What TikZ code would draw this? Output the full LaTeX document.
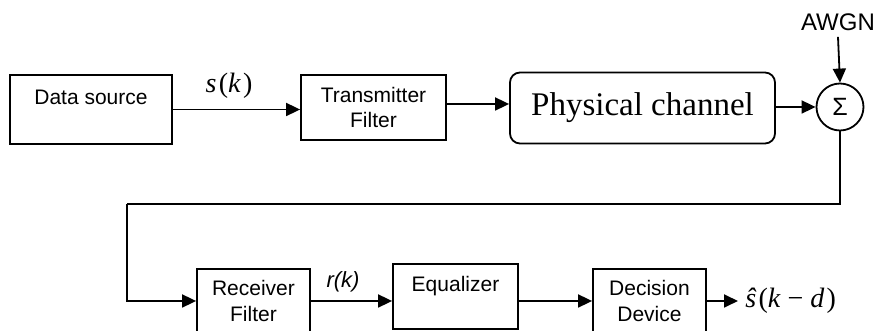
\documentclass[tikz,border=0pt]{standalone}
\usepackage{fontspec}
\setmainfont{Liberation Sans}
\newfontfamily\tms{Liberation Serif}
\usetikzlibrary{arrows.meta}

\begin{document}
\begin{tikzpicture}[x=0.5pt,y=-0.5pt,
    blk/.style={draw,line width=0.9pt,align=center,inner sep=1pt,
      font=\fontsize{10.5}{12.6}\selectfont},
    arr/.style={line width=0.9pt,-{Triangle[length=7pt,width=6.5pt]}},
    lbl/.style={inner sep=1pt}]
  \useasboundingbox (0,0) rectangle (875,331);
  \clip (0,0) rectangle (875,331);
  % upper row
  \node[blk,minimum width=81pt,minimum height=34.5pt] (src) at (91,109.5) {Data source\\~};
  \node[blk,minimum width=72.5pt,minimum height=32.5pt] (tx) at (373.5,107.5) {Transmitter\\Filter};
  \node[blk,rounded corners=5pt,minimum width=132.5pt,minimum height=35.5pt,
        font=\tms\fontsize{16.5}{20}\selectfont] (ch) at (642.5,108) {Physical channel};
  \node[draw,circle,line width=0.9pt,minimum size=23.5pt,inner sep=0pt,
        font=\fontsize{12.5}{14}\selectfont] (sum) at (840,107) {Σ};
  \node[lbl,inner sep=3pt,font=\fontsize{12}{14}\selectfont] (awgn) at (838,22) {AWGN};
  \node[lbl,font=\tms\fontsize{14}{16}\selectfont] (sk) at (229,86) {\textit{s}\kern1.2pt(\textit{k}\kern1pt)};
  % lower row
  \node[blk,minimum width=56.5pt,minimum height=32pt] (rx) at (253.5,301) {Receiver\\Filter};
  \node[blk,minimum width=62.5pt,minimum height=32.5pt] (eq) at (455.5,296.5) {Equalizer\\~};
  \node[blk,minimum width=56.5pt,minimum height=32pt] (dd) at (649.5,301) {Decision\\Device};
  \node[lbl,font=\fontsize{11}{13}\selectfont] (rk) at (343,282) {\textit{r(k)}};
  \node[lbl,inner sep=3.5pt,anchor=west,font=\tms\fontsize{14}{16}\selectfont] (out) at (738,301)
    {\textit{ŝ}\kern1pt(\textit{k} − \textit{d}\kern1pt)};
  \coordinate (bend) at (127,204);
  % connectors
  \draw[arr] (src.east) -- (src.east -| tx.west);
  \draw[arr] ([yshift=1.75pt]tx.east) -- ([yshift=1.75pt]tx.east -| ch.west);
  \draw[arr] (ch.east |- sum.west) -- (sum.west);
  \draw[arr] (awgn.south) -- (sum.north);
  \draw[line width=0.9pt] (sum.south) |- (bend);
  \draw[arr] (bend) |- (rx.west);
  \draw[arr] (rx.east) -- (rx.east -| eq.west);
  \draw[arr] (eq.east |- dd.west) -- (dd.west);
  \draw[arr] (dd.east) -- (out.west);
\end{tikzpicture}
\end{document}
